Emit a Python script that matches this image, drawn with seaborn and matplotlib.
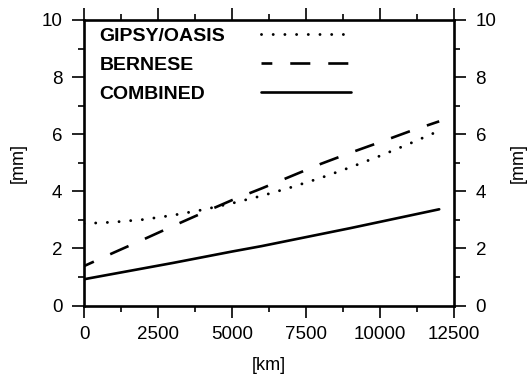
import numpy as np
import pandas as pd
import matplotlib
matplotlib.use("Agg")
import matplotlib.pyplot as plt
from matplotlib.ticker import MultipleLocator
import seaborn as sns

# ---- data ----
distance_km = [0, 1000, 2000, 3000, 4000, 5000, 6000, 7000, 8000, 9000, 10000, 11000, 12000]
gipsy_oasis = [2.87, 2.92, 3.01, 3.16, 3.35, 3.58, 3.84, 4.14, 4.47, 4.84, 5.24, 5.67, 6.12]
bernese = [1.38, 1.85, 2.31, 2.78, 3.24, 3.69, 4.10, 4.53, 4.96, 5.35, 5.72, 6.10, 6.45]
combined = [0.92, 1.11, 1.30, 1.49, 1.69, 1.89, 2.08, 2.29, 2.50, 2.71, 2.93, 3.15, 3.37]
series_names = ["GIPSY/OASIS", "BERNESE", "COMBINED"]
x_ticks = [0, 2500, 5000, 7500, 10000, 12500]
y_ticks = [0, 2, 4, 6, 8, 10]

df = pd.DataFrame({
    "km": distance_km * 3,
    "mm": gipsy_oasis + bernese + combined,
    "series": sum([[n] * len(distance_km) for n in series_names], []),
})

sns.set_style("ticks")
plt.rcParams["font.family"] = ["Liberation Sans", "DejaVu Sans"]
plt.rcParams.update({"text.color": "black", "axes.labelcolor": "black",
                     "xtick.color": "black", "ytick.color": "black",
                     "axes.edgecolor": "black"})

fig = plt.figure(figsize=(5.3, 3.78), dpi=100)
ax = fig.add_axes([84 / 530, 1 - 305.5 / 378, (454 - 84) / 530, (305.5 - 20) / 378])

dash_map = {"GIPSY/OASIS": (0.01, 4.0), "BERNESE": (7.6, 6.8), "COMBINED": ""}
sns.lineplot(data=df, x="km", y="mm", style="series", style_order=series_names,
             dashes=dash_map, color="black", linewidth=1.9, legend=False,
             dash_capstyle="round", ax=ax)
lines = ax.get_lines()[:3]
lines[0].set_linewidth(2.1)
lines[0].set_linestyle((0, (0.01, 4.0)))
lines[0].set_dash_capstyle("round")
lines[1].set_linestyle((3.5, (7.6, 6.8)))
lines[1].set_dash_capstyle("butt")

ax.set_xlim(0, 12500)
ax.set_ylim(0, 10)

ax2 = ax.twinx()
ax2.set_ylim(0, 10)
ax2.set_yticks([])
ax2.tick_params(right=False)
ax2.set_ylabel("[mm]", fontsize=13, labelpad=40)
for sp in ax2.spines.values():
    sp.set_visible(False)

ax.set_xticks(x_ticks)
ax.set_yticks(y_ticks)
ax.xaxis.set_minor_locator(MultipleLocator(1250))
ax.yaxis.set_minor_locator(MultipleLocator(1))
ax.set_xlabel("[km]", fontsize=13, labelpad=10)
ax.set_ylabel("[mm]", fontsize=13, labelpad=11)

for sp in ax.spines.values():
    sp.set_visible(True)
    sp.set_linewidth(1.9)
    sp.set_color("black")

ax.tick_params(which="both", direction="out", top=True, right=True, left=True,
               bottom=True, labelright=True, labelleft=True, width=1.2,
               colors="black")
ax.tick_params(which="major", length=8.5, labelsize=13.5)
ax.tick_params(axis="y", which="major", pad=7)
ax.tick_params(axis="x", which="major", pad=6)
ax.tick_params(which="minor", length=4.5)

# legend: labels on the left (left aligned), line samples on the right
leg1 = ax.legend(lines, series_names, loc="upper left", bbox_to_anchor=(0.008, 1.02),
                 frameon=False, handlelength=0, handletextpad=0,
                 prop={"weight": "bold", "size": 14}, labelspacing=0.6,
                 borderaxespad=0.35, borderpad=0.3)
for l in leg1.get_lines():
    l.set_visible(False)
ax.add_artist(leg1)
leg2 = ax.legend(lines, [" ", " ", " "], loc="upper left",
                 bbox_to_anchor=(0.445, 1.02), frameon=False, handlelength=4.6,
                 handletextpad=0, prop={"weight": "bold", "size": 14},
                 labelspacing=0.6, borderaxespad=0.35, borderpad=0.3)

fig.savefig("out.png", dpi=100)
